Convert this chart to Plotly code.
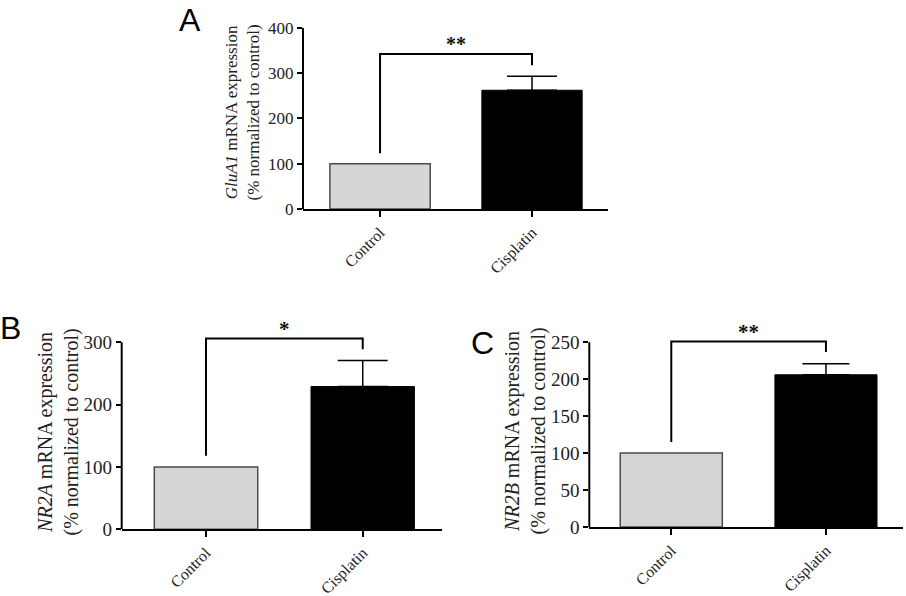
import plotly.graph_objects as go

# ---- data ----
categories = ["Control", "Cisplatin"]

glua1_values = [100, 262]
glua1_error = [0, 31]
nr2a_values = [100, 229]
nr2a_error = [0, 42]
nr2b_values = [100, 206]
nr2b_error = [0, 15]

glua1_ticks = [0, 100, 200, 300, 400]
nr2a_ticks = [0, 100, 200, 300]
nr2b_ticks = [0, 50, 100, 150, 200, 250]

# significance brackets: (top, left end, right end, label)
glua1_bracket = (342, 123, 317, "**")
nr2a_bracket = (306, 118, 289, "*")
nr2b_bracket = (251, 115, 237, "**")

# ---- styling ----
W, H = 906, 596
SERIF = "Liberation Serif"
SANS = "Liberation Sans"
CTRL_FILL = "#d6d6d6"
CTRL_LINE = "#4a4a4a"
ERR_COLOR = "#000000"

panels = [
    dict(key="", values=glua1_values, err=glua1_error, ticks=glua1_ticks,
         bracket=glua1_bracket, yrange=[0, 400],
         xdom=[303 / W, 608 / W], ydom=[1 - 209 / H, 1 - 27.7 / H],
         xrange=[-0.507, 1.5], tickfont=17, catfont=16, titlefont=17,
         title="<i>GluA1</i> mRNA expression<br>(% normalized to control)",
         title_xy=(242.5 / W, 1 - 112 / H), errw=25, starfont=20,
         letter="A", letter_xy=(190 / W, 1.0), letter_anchor="top", star_y=335),
    dict(key="2", values=nr2a_values, err=nr2a_error, ticks=nr2a_ticks,
         bracket=nr2a_bracket, yrange=[0, 330],
         xdom=[121.7 / W, 441.7 / W], ydom=[1 - 529.3 / H, 1 - 323.6 / H],
         xrange=[-0.538, 1.504], tickfont=19, catfont=16, titlefont=20,
         title="<i>NR2A</i> mRNA expression<br>(% normalized to control)",
         title_xy=(57.5 / W, 1 - 432 / H), errw=25, starfont=21,
         letter="B", letter_xy=(10 / W, 1 - 328 / H), letter_anchor="middle", star_y=299),
    dict(key="3", values=nr2b_values, err=nr2b_error, ticks=nr2b_ticks,
         bracket=nr2b_bracket, yrange=[0, 270],
         xdom=[589.3 / W, 903.3 / W], ydom=[1 - 527 / H, 1 - 327.5 / H],
         xrange=[-0.53, 1.5], tickfont=19, catfont=16, titlefont=20,
         title="<i>NR2B</i> mRNA expression<br>(% normalized to control)",
         title_xy=(525 / W, 1 - 431.5 / H), errw=23.5, starfont=21,
         letter="C", letter_xy=(482 / W, 1 - 342.5 / H), letter_anchor="middle", star_y=245.5),
]

fig = go.Figure()
shapes = []
annotations = []
layout_axes = {}

for p in panels:
    xa = "x" + p["key"]
    ya = "y" + p["key"]
    # control bar
    fig.add_trace(go.Bar(
        x=[categories[0]], y=[p["values"][0]], xaxis=xa, yaxis=ya,
        width=0.66, marker=dict(color=CTRL_FILL, line=dict(color=CTRL_LINE, width=1.5)),
        showlegend=False, hoverinfo="skip"))
    # cisplatin bar with upward error bar
    fig.add_trace(go.Bar(
        x=[categories[1]], y=[p["values"][1]], xaxis=xa, yaxis=ya,
        width=0.66, marker=dict(color="#000000", line=dict(color="#000000", width=1)),
        error_y=dict(type="data", array=[p["err"][1]], arrayminus=[0], symmetric=False,
                     color=ERR_COLOR, thickness=1.5, width=p["errw"]),
        showlegend=False, hoverinfo="skip"))

    layout_axes["xaxis" + p["key"]] = dict(
        domain=p["xdom"], anchor=ya, type="category", automargin=False,
        categoryorder="array", categoryarray=categories,
        range=p["xrange"], showline=True, linecolor="black", linewidth=2,
        ticks="outside", ticklen=6, tickwidth=2, tickcolor="black",
        tickangle=-45, tickfont=dict(family=SERIF, size=p["catfont"], color="#222"),
        showgrid=False, zeroline=False, fixedrange=True)
    layout_axes["yaxis" + p["key"]] = dict(
        domain=p["ydom"], anchor=xa, range=p["yrange"], automargin=False,
        tickvals=p["ticks"], showline=False, ticks="outside", ticklen=5,
        tickwidth=2, tickcolor="black",
        tickfont=dict(family=SERIF, size=p["tickfont"], color="#222"),
        showgrid=False, zeroline=False, fixedrange=True)

    # y axis line up to the last tick
    shapes.append(dict(type="line", xref=xa + " domain", yref=ya,
                       x0=0, x1=0, y0=0, y1=p["ticks"][-1],
                       line=dict(color="black", width=2)))

    top, left_end, right_end, label = p["bracket"]
    shapes.append(dict(type="path", xref=xa, yref=ya,
                       path=f"M 0 {left_end} L 0 {top} L 1 {top} L 1 {right_end}",
                       line=dict(color="black", width=2)))
    annotations.append(dict(x=0.5, y=p["star_y"], xref=xa, yref=ya,
                            text="<b>" + label + "</b>",
                            showarrow=False, yanchor="bottom",
                            font=dict(family=SERIF, size=p["starfont"], color="#111")))
    annotations.append(dict(x=p["title_xy"][0], y=p["title_xy"][1], xref="paper",
                            yref="paper", text=p["title"], textangle=-90,
                            showarrow=False, xanchor="center", yanchor="middle",
                            font=dict(family=SERIF, size=p["titlefont"], color="#222")))
    annotations.append(dict(x=p["letter_xy"][0], y=p["letter_xy"][1], xref="paper",
                            yref="paper", text=p["letter"], showarrow=False,
                            xanchor="center", yanchor=p["letter_anchor"],
                            font=dict(family=SANS, size=32, color="black")))

fig.update_layout(
    width=W, height=H, autosize=False,
    margin=dict(l=0, r=0, t=0, b=0, autoexpand=False),
    paper_bgcolor="white", plot_bgcolor="white",
    shapes=shapes, annotations=annotations, bargap=0.34,
    **layout_axes)

fig.write_html("out.html", config={"displayModeBar": False},
               post_script="document.body.style.margin='0';document.body.style.overflow='hidden';")
